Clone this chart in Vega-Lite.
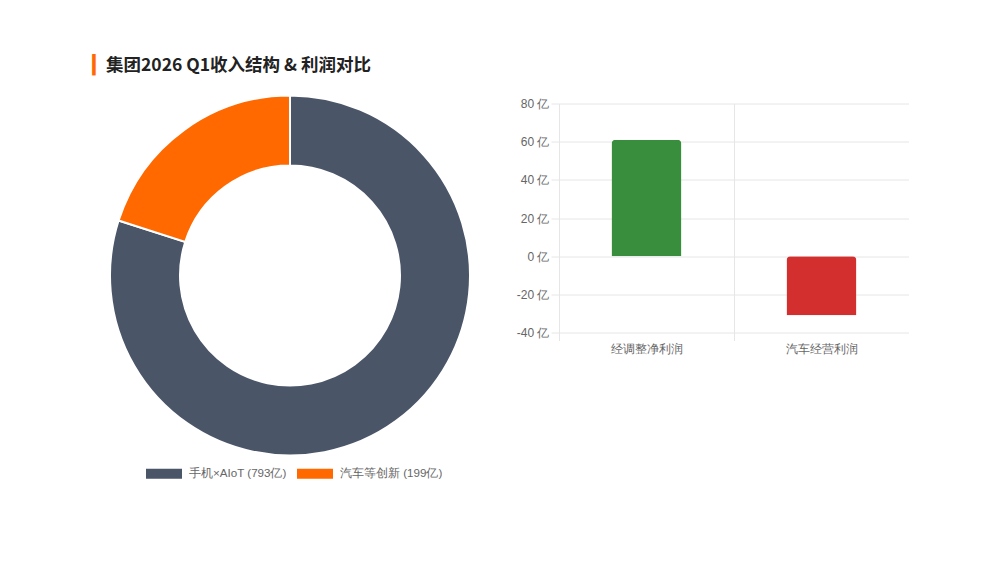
{
  "$schema": "https://vega.github.io/schema/vega-lite/v6.json",
  "background": "#ffffff",
  "padding": {"left": 92, "top": 56.5, "right": 0, "bottom": 0},
  "title": {
    "text": "集团2026 Q1收入结构 & 利润对比",
    "anchor": "start",
    "frame": "group",
    "dx": -4,
    "offset": -36,
    "baseline": "bottom",
    "font": "Noto Sans CJK SC",
    "fontSize": 17.5,
    "fontWeight": "bold",
    "color": "#222222"
  },
  "spacing": 42,
  "resolve": {"scale": {"color": "independent"}, "legend": {"color": "independent"}},
  "hconcat": [
    {
      "width": 360,
      "height": 344,
      "title": {
        "text": "▎",
        "orient": "left",
        "anchor": "end",
        "angle": 0,
        "align": "left",
        "baseline": "top",
        "offset": 0,
        "dy": -35,
        "font": "DejaVu Sans",
        "fontSize": 18,
        "color": "#ff6900"
      },
      "data": {"values": [
        {"name": "手机×AIoT (793亿)", "value": 793},
        {"name": "汽车等创新 (199亿)", "value": 199}
      ]},
      "mark": {"type": "arc", "innerRadius": 110, "outerRadius": 180, "stroke": "#ffffff", "strokeWidth": 2},
      "encoding": {
        "theta": {"field": "value", "type": "quantitative", "stack": true},
        "order": {"field": "value", "type": "quantitative", "sort": "descending"},
        "color": {
          "field": "name",
          "type": "nominal",
          "sort": null,
          "scale": {"domain": ["手机×AIoT (793亿)", "汽车等创新 (199亿)"], "range": ["#4a5568", "#ff6900"]},
          "legend": {
            "orient": "none",
            "legendX": 36,
            "legendY": 352,
            "direction": "horizontal",
            "title": null,
            "symbolType": "M-1,-0.28H1V0.28H-1Z",
            "symbolSize": 1296,
            "symbolStrokeWidth": 0,
            "labelFont": "Liberation Sans",
            "labelFontSize": 11.6,
            "labelColor": "#666666",
            "labelOffset": 7,
            "columnPadding": 10
          }
        }
      }
    },
    {
      "width": 350,
      "height": 229,
      "data": {"values": [
        {"item": "经调整净利润", "value": 61},
        {"item": "汽车经营利润", "value": -31}
      ]},
      "mark": {"type": "bar", "size": 70, "cornerRadiusEnd": 4},
      "encoding": {
        "x": {
          "field": "item",
          "type": "nominal",
          "sort": null,
          "scale": {"paddingInner": 0, "paddingOuter": 0},
          "axis": {
            "title": null,
            "labelAngle": 0,
            "bandPosition": 0,
            "domain": false,
            "grid": true,
            "gridColor": "#e6e6e6",
            "ticks": true,
            "tickSize": 8,
            "tickColor": "#e6e6e6",
            "labelPadding": 3,
            "labelFont": "Liberation Sans",
            "labelFontSize": 12,
            "labelColor": "#666666"
          }
        },
        "y": {
          "field": "value",
          "type": "quantitative",
          "scale": {"domain": [-40, 80], "nice": false},
          "axis": {
            "title": null,
            "values": [-40, -20, 0, 20, 40, 60, 80],
            "labelExpr": "datum.value + ' 亿'",
            "domain": false,
            "grid": true,
            "gridColor": "#e6e6e6",
            "ticks": true,
            "tickSize": 8,
            "tickColor": "#e6e6e6",
            "labelPadding": 2,
            "labelFont": "Liberation Sans",
            "labelFontSize": 12,
            "labelColor": "#666666"
          }
        },
        "color": {
          "field": "item",
          "type": "nominal",
          "sort": null,
          "scale": {"domain": ["经调整净利润", "汽车经营利润"], "range": ["#388e3c", "#d32f2f"]},
          "legend": null
        }
      }
    }
  ],
  "config": {
    "view": {"stroke": null}
  }
}
